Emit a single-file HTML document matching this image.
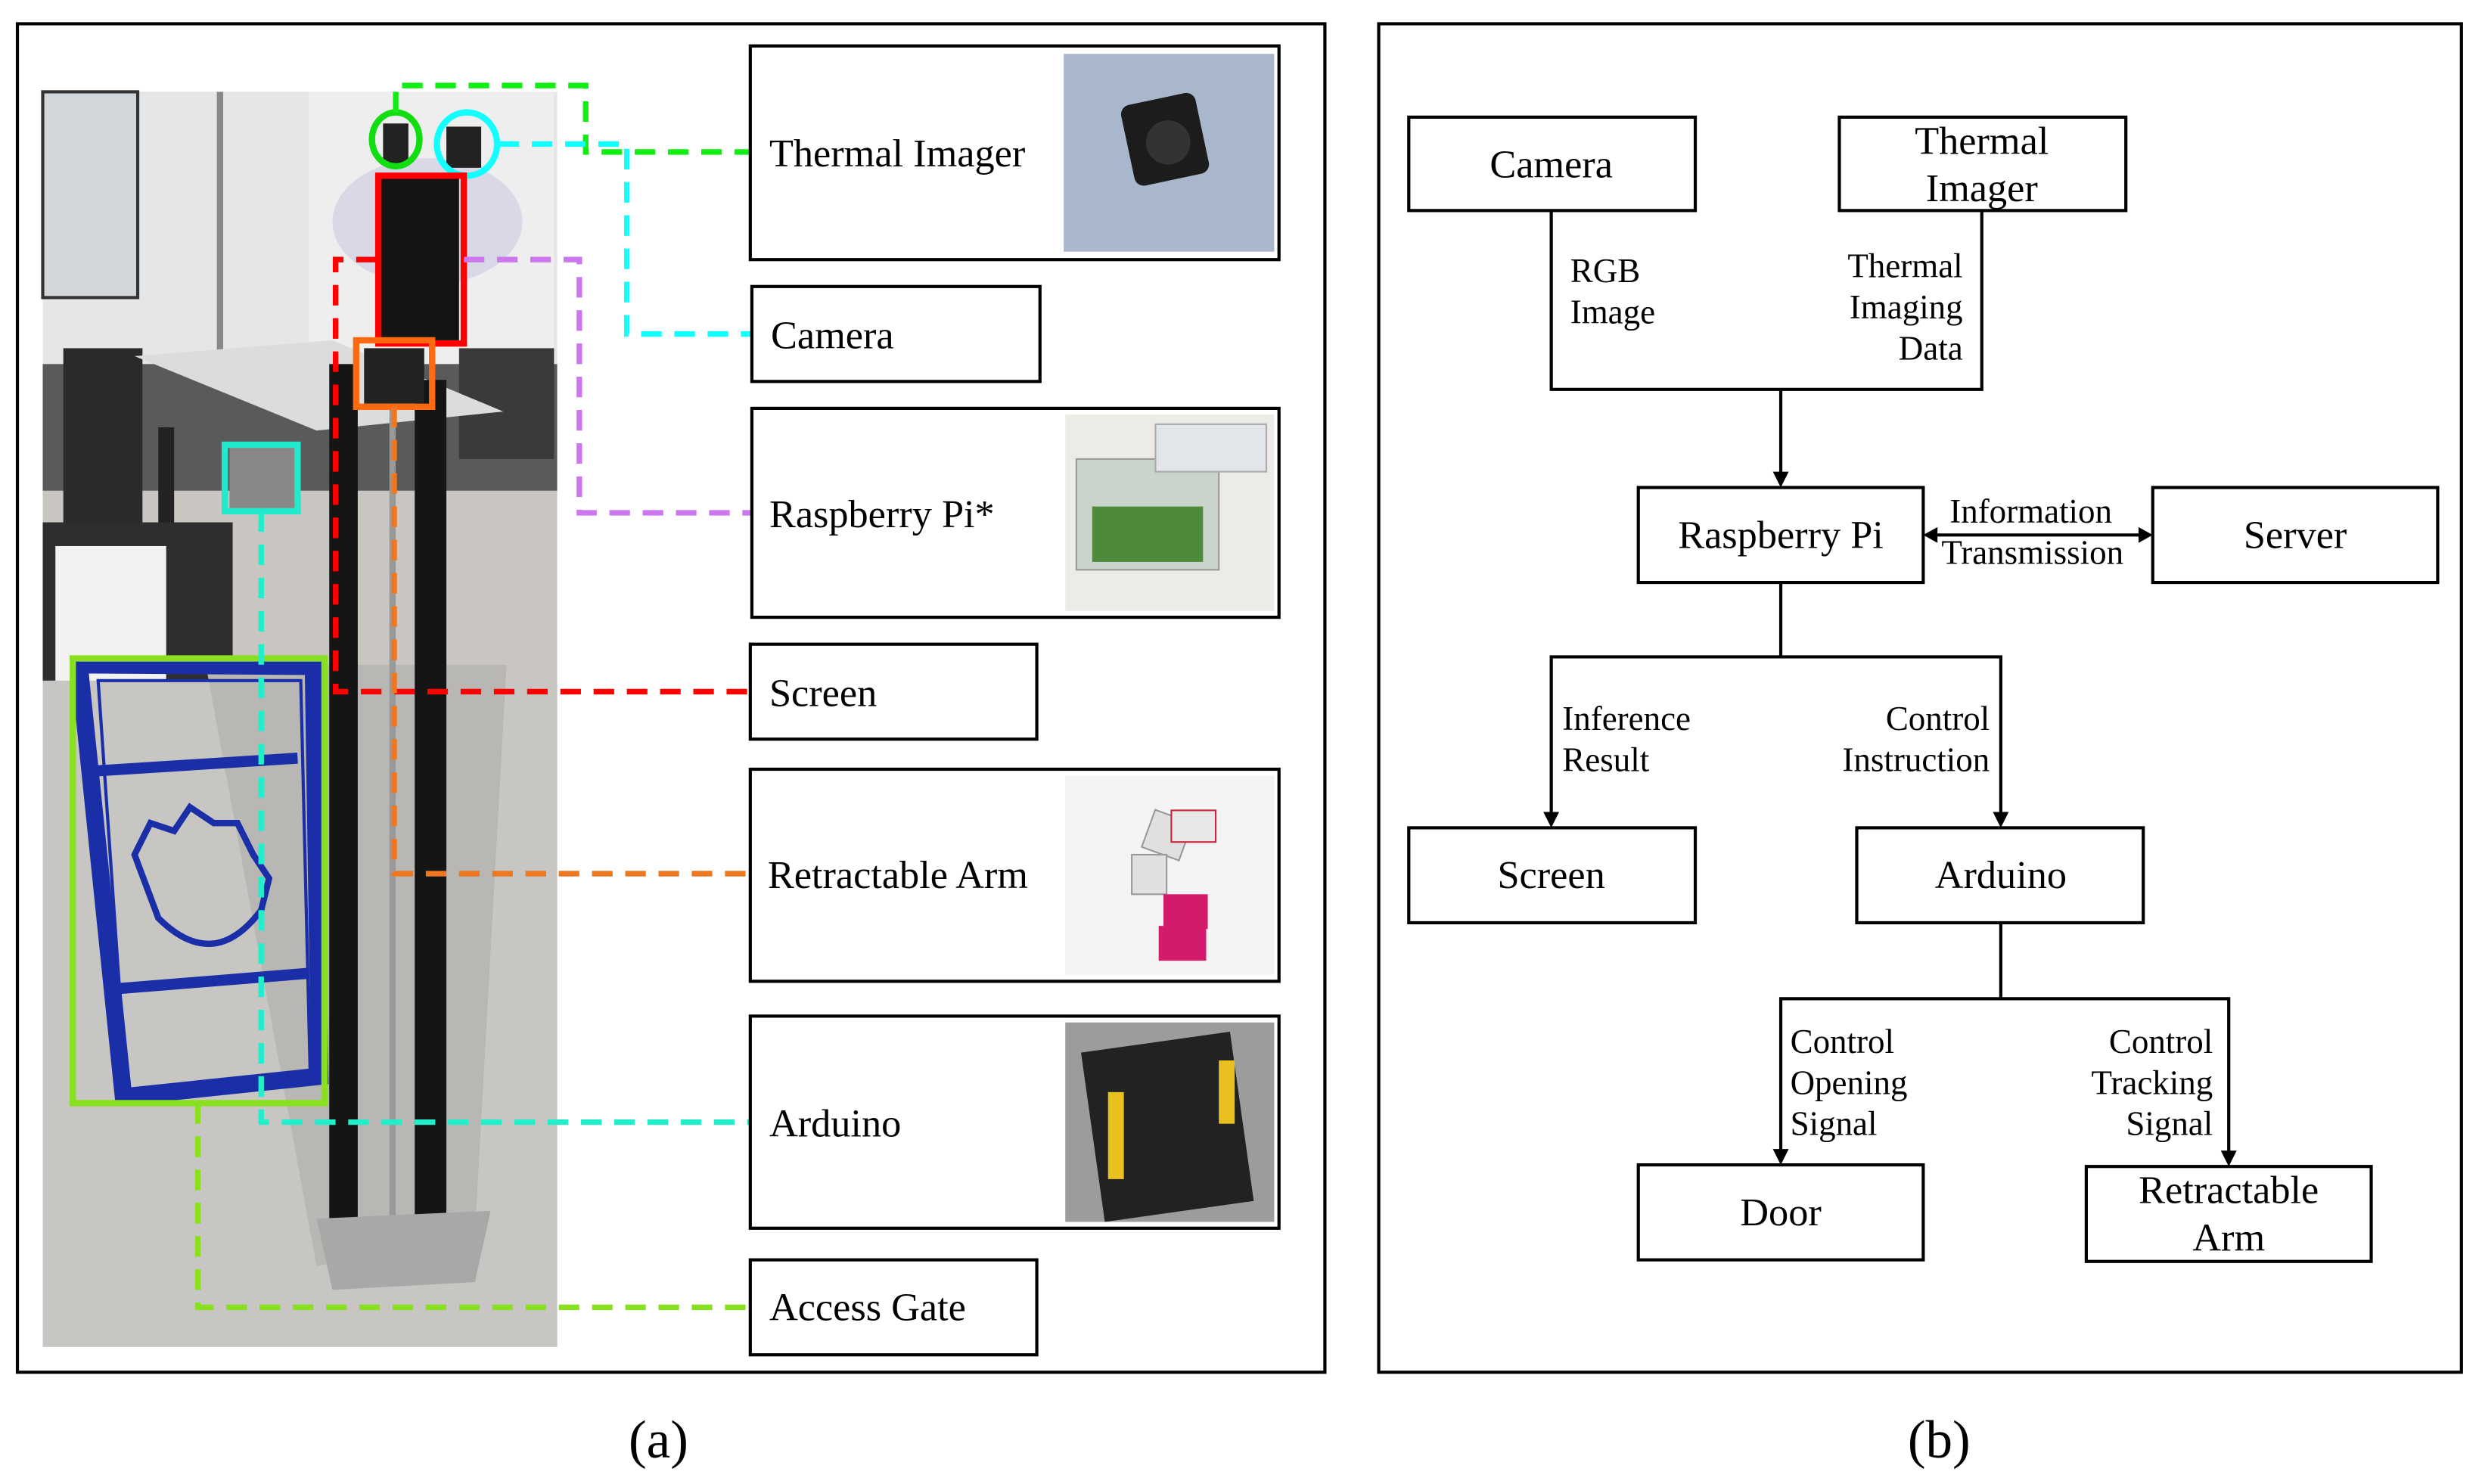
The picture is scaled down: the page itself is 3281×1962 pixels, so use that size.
<!DOCTYPE html>
<html><head><meta charset="utf-8"><style>html,body{margin:0;padding:0;background:#fff}svg{display:block}</style></head>
<body>
<svg xmlns="http://www.w3.org/2000/svg" width="3281" height="1962" viewBox="0 0 1568 937.6" font-family="Liberation Serif, serif">
<rect x="0" y="0" width="1568" height="937.6" fill="#fff"/>
<rect x="11" y="15" width="826" height="852" fill="none" stroke="#000" stroke-width="2"/>
<rect x="871" y="15" width="684" height="852" fill="none" stroke="#000" stroke-width="2"/>
<text x="416" y="910" font-size="34" text-anchor="middle" dominant-baseline="central">(a)</text>
<text x="1225" y="910" font-size="34" text-anchor="middle" dominant-baseline="central">(b)</text>

<g>
<rect x="27" y="58" width="325" height="793" fill="#c9c6c1"/>
<rect x="27" y="58" width="325" height="200" fill="#e4e6e8"/>
<rect x="27" y="58" width="60" height="130" fill="#d2d7dc" stroke="#333" stroke-width="2"/>
<rect x="137" y="58" width="4" height="220" fill="#888"/>
<rect x="195" y="58" width="155" height="180" fill="#eeeeee"/>
<ellipse cx="270" cy="140" rx="60" ry="40" fill="#d8d8e6"/>
<rect x="27" y="230" width="325" height="80" fill="#5a5a5a"/>
<rect x="40" y="220" width="50" height="120" fill="#2a2a2a"/>
<rect x="290" y="220" width="60" height="70" fill="#3a3a3a"/>
<polygon points="85,225 210,215 318,260 200,272" fill="#dcdcdc"/>
<rect x="100" y="270" width="10" height="80" fill="#222"/>
<rect x="27" y="330" width="120" height="200" fill="#2e2e2e"/>
<rect x="35" y="345" width="70" height="180" fill="#f2f2f2"/>
<rect x="27" y="430" width="325" height="421" fill="#c8c6c3"/>
<polygon points="130,420 320,420 300,780 200,800" fill="#b9b7b4"/>
<rect x="208" y="230" width="18" height="560" fill="#151515"/>
<rect x="262" y="240" width="20" height="540" fill="#151515"/>
<rect x="246" y="250" width="4" height="520" fill="#999"/>
<polygon points="200,770 310,765 300,810 210,815" fill="#a8a8a8"/>
<rect x="240" y="110" width="50" height="105" fill="#141414"/>
<rect x="242" y="78" width="16" height="26" fill="#222"/>
<rect x="282" y="80" width="22" height="26" fill="#222"/>
<rect x="230" y="220" width="38" height="35" fill="#222"/>
<rect x="145" y="282" width="42" height="40" fill="#888"/>
<polygon points="50,420 198,421 202,680 78,693" fill="none" stroke="#1a2ea8" stroke-width="11"/>
<polygon points="62,430 190,430 196,680 80,690" fill="none" stroke="#1a2ea8" stroke-width="2"/>
<line x1="62" y1="487" x2="188" y2="479" stroke="#1a2ea8" stroke-width="7"/>
<line x1="70" y1="625" x2="194" y2="615" stroke="#1a2ea8" stroke-width="7"/>
<path d="M85,540 l10,-20 l15,5 l10,-15 l15,10 l15,0 l10,20 l10,15 l-5,20 q-30,40 -65,5 z" fill="none" stroke="#1a2ea8" stroke-width="4"/>
</g>

<ellipse cx="250" cy="88" rx="15" ry="17" fill="none" stroke="#11dd11" stroke-width="4"/>
<ellipse cx="295" cy="91" rx="19" ry="20" fill="none" stroke="#11ffff" stroke-width="4"/>
<rect x="239" y="111" width="54" height="106" fill="none" stroke="#ff0000" stroke-width="4"/>
<rect x="225" y="215" width="48" height="42" fill="none" stroke="#ff6a10" stroke-width="4"/>
<rect x="142" y="281" width="46" height="42" fill="none" stroke="#22e8cc" stroke-width="4"/>
<rect x="46" y="416" width="159" height="281" fill="none" stroke="#88e020" stroke-width="4"/>

<g fill="none" stroke-width="3.5" stroke-dasharray="13,8">
<polyline points="250,71 250,54 370,54 370,96 474,96" stroke="#11ee11"/>
<polyline points="315,91 396,91 396,211 475,211" stroke="#11ffff"/>
<polyline points="238,164 212,164 212,437 474,437" stroke="#ff0000"/>
<polyline points="293,164 366,164 366,324 474,324" stroke="#cc77ee"/>
<polyline points="249,257 249,552 474,552" stroke="#ee7722"/>
<polyline points="165,323 165,709 474,709" stroke="#22eecc"/>
<polyline points="125,697 125,826 474,826" stroke="#88e020"/>
</g>

<g fill="#fff" stroke="#000" stroke-width="2">
<rect x="474" y="29" width="334" height="135"/>
<rect x="475" y="181" width="182" height="60"/>
<rect x="475" y="258" width="333" height="132"/>
<rect x="474" y="407" width="181" height="60"/>
<rect x="474" y="486" width="334" height="134"/>
<rect x="474" y="642" width="334" height="134"/>
<rect x="474" y="796" width="181" height="60"/>
</g>
<rect x="672" y="34" width="133" height="125" fill="#a9b7cc"/>
<rect x="712" y="62" width="48" height="52" rx="6" fill="#1c1c1c" transform="rotate(-12 736 88)"/>
<circle cx="738" cy="90" r="14" fill="#333"/>
<rect x="673" y="262" width="132" height="124" fill="#ecebe6"/>
<rect x="680" y="290" width="90" height="70" fill="#c8d4cc" stroke="#999"/>
<rect x="690" y="320" width="70" height="35" fill="#4d8a3a"/>
<rect x="730" y="268" width="70" height="30" fill="#e2e6ea" stroke="#aaa"/>
<rect x="673" y="490" width="132" height="126" fill="#f4f4f4"/>
<rect x="725" y="515" width="25" height="25" fill="#e0e0e0" stroke="#999" transform="rotate(20 737 527)"/>
<rect x="715" y="540" width="22" height="25" fill="#e0e0e0" stroke="#999"/>
<rect x="735" y="565" width="28" height="22" fill="#d41a6a"/>
<rect x="732" y="585" width="30" height="22" fill="#d41a6a"/>
<rect x="740" y="512" width="28" height="20" fill="#e8e8e8" stroke="#c23"/>
<rect x="673" y="646" width="132" height="126" fill="#9c9c9c"/>
<rect x="690" y="658" width="95" height="108" fill="#222" transform="rotate(-8 737 712)"/>
<rect x="700" y="690" width="10" height="55" fill="#e8c020"/>
<rect x="770" y="670" width="10" height="40" fill="#e8c020"/>

<g font-size="25" dominant-baseline="central">
<text x="486" y="97">Thermal Imager</text>
<text x="487" y="212">Camera</text>
<text x="486" y="325">Raspberry Pi*</text>
<text x="486" y="438">Screen</text>
<text x="485" y="553">Retractable Arm</text>
<text x="486" y="710">Arduino</text>
<text x="486" y="826">Access Gate</text>
</g>

<g fill="none" stroke="#000" stroke-width="2">
<rect x="890" y="74" width="181" height="59"/>
<rect x="1162" y="74" width="181" height="59"/>
<rect x="1035" y="308" width="180" height="60"/>
<rect x="1360" y="308" width="180" height="60"/>
<rect x="890" y="523" width="181" height="60"/>
<rect x="1173" y="523" width="181" height="60"/>
<rect x="1035" y="736" width="180" height="60"/>
<rect x="1318" y="737" width="180" height="60"/>
<polyline points="980,133 980,246 1252,246 1252,133"/>
<line x1="1125" y1="246" x2="1125" y2="300"/>
<line x1="1223" y1="338" x2="1352" y2="338"/>
<line x1="1125" y1="368" x2="1125" y2="415"/>
<polyline points="980,515 980,415 1264,415 1264,515"/>
<line x1="1264" y1="583" x2="1264" y2="631"/>
<polyline points="1125,728 1125,631 1408,631 1408,729"/>
</g>
<g fill="#000">
<polygon points="1120,298 1130,298 1125,308"/>
<polygon points="1215,338 1224,333 1224,343"/>
<polygon points="1360,338 1351,333 1351,343"/>
<polygon points="975,513 985,513 980,523"/>
<polygon points="1259,513 1269,513 1264,523"/>
<polygon points="1120,726 1130,726 1125,736"/>
<polygon points="1403,727 1413,727 1408,737"/>
</g>
<g font-size="25" text-anchor="middle" dominant-baseline="central">
<text x="980" y="104">Camera</text>
<text x="1252" y="89">Thermal</text>
<text x="1252" y="119">Imager</text>
<text x="1125" y="338">Raspberry Pi</text>
<text x="1450" y="338">Server</text>
<text x="980" y="553">Screen</text>
<text x="1264" y="553">Arduino</text>
<text x="1125" y="766">Door</text>
<text x="1408" y="752">Retractable</text>
<text x="1408" y="782">Arm</text>
</g>
<g font-size="21.5" dominant-baseline="central">
<text x="992" y="171">RGB</text>
<text x="992" y="197">Image</text>
<text x="1240" y="168" text-anchor="end">Thermal</text>
<text x="1240" y="194" text-anchor="end">Imaging</text>
<text x="1240" y="220" text-anchor="end">Data</text>
<text x="1283" y="323" text-anchor="middle">Information</text>
<text x="1284" y="349" text-anchor="middle">Transmission</text>
<text x="987" y="454">Inference</text>
<text x="987" y="480">Result</text>
<text x="1257" y="454" text-anchor="end">Control</text>
<text x="1257" y="480" text-anchor="end">Instruction</text>
<text x="1131" y="658">Control</text>
<text x="1131" y="684">Opening</text>
<text x="1131" y="710">Signal</text>
<text x="1398" y="658" text-anchor="end">Control</text>
<text x="1398" y="684" text-anchor="end">Tracking</text>
<text x="1398" y="710" text-anchor="end">Signal</text>
</g>
</svg>
</body></html>
